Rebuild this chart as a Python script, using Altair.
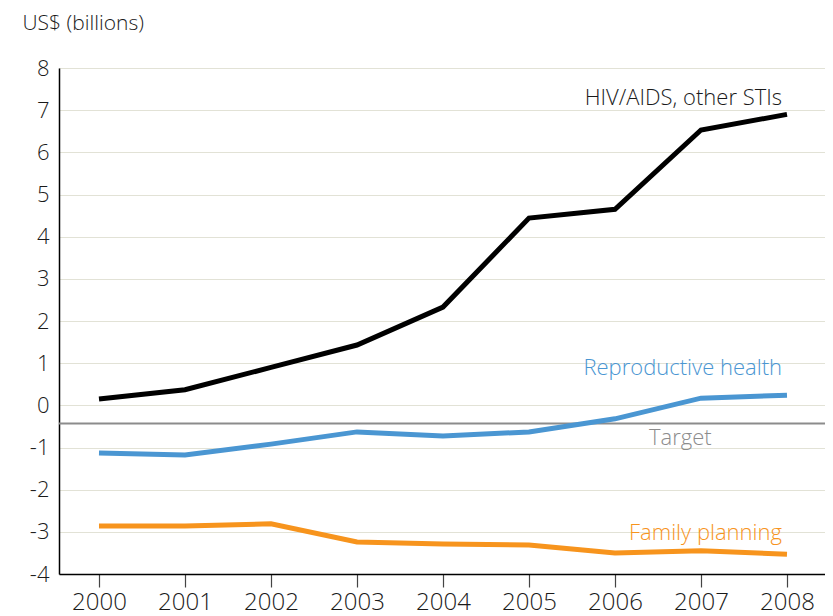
import altair as alt
import pandas as pd

years = [2000, 2001, 2002, 2003, 2004, 2005, 2006, 2007, 2008]
hiv = [0.15, 0.37, 0.9, 1.43, 2.33, 4.44, 4.65, 6.53, 6.9]
repro = [-1.13, -1.18, -0.92, -0.63, -0.73, -0.63, -0.32, 0.17, 0.24]
family = [-2.86, -2.86, -2.81, -3.24, -3.29, -3.31, -3.5, -3.45, -3.53]
target = -0.43

series_names = ["HIV/AIDS, other STIs", "Reproductive health", "Family planning"]
series_colors = ["#000000", "#4a96d2", "#f7941d"]

rows = []
for name, vals in zip(series_names, [hiv, repro, family]):
    for yr, v in zip(years, vals):
        rows.append({"year": yr, "value": v, "series": name})
df = pd.DataFrame(rows)

label_text = ["HIV/AIDS, other STIs", "Reproductive health", "Family planning"]
label_x = [2008, 2008, 2008]
label_y = [7.3, 0.88, -3.03]
label_color = ["#1a1a1a", "#4a96d2", "#f7941d"]
labels = pd.DataFrame({"text": label_text, "year": label_x, "value": label_y, "color": label_color})

target_label = pd.DataFrame({"text": ["Target"], "year": [2006.76], "value": [-0.78]})

FONT = "Open Sans"

xscale = alt.Scale(domain=[1999.535, 2008.442], nice=False, zero=False)
yscale = alt.Scale(domain=[-4, 8], nice=False)

xaxis = alt.Axis(values=years, format="d", title=None, grid=False,
                 domainColor="#000000", domainWidth=1.5,
                 tickColor="#444444", tickSize=13, tickWidth=1.2,
                 labelFontSize=24, labelColor="#1a1a1a", labelPadding=3, labelFont=FONT,
                 labelFontWeight=300)
yaxis = alt.Axis(values=list(range(-4, 9)), title="US$ (billions)",
                 labelExpr="'' + datum.value",
                 grid=True, gridColor="#e2e2d6", gridWidth=1,
                 ticks=False, domainColor="#000000", domainWidth=1.5,
                 labelFontSize=22, labelColor="#1a1a1a", labelPadding=10, labelFont=FONT,
                 labelFontWeight=300,
                 titleAngle=0, titleX=-37, titleY=-39, titleAlign="left",
                 titleBaseline="alphabetic", titleFontSize=21, titleFontWeight=300,
                 titleColor="#1a1a1a", titleFont=FONT)

base = alt.Chart(df)

rule = alt.Chart(pd.DataFrame({"t": [target]})).mark_rule(
    color="#8c8c8c", strokeWidth=2
).encode(y=alt.Y("t:Q", scale=yscale, axis=yaxis))

lines = base.mark_line(strokeWidth=5).encode(
    x=alt.X("year:Q", scale=xscale, axis=xaxis),
    y=alt.Y("value:Q", scale=yscale, axis=yaxis),
    color=alt.Color("series:N", scale=alt.Scale(domain=series_names, range=series_colors), legend=None),
    detail="series:N",
)

text = alt.Chart(labels).mark_text(align="right", baseline="middle", fontSize=22, font=FONT,
                                   fontWeight=300, dx=-5).encode(
    x=alt.X("year:Q", scale=xscale),
    y=alt.Y("value:Q", scale=yscale),
    text="text:N",
    color=alt.Color("color:N", scale=None),
)

ttext = alt.Chart(target_label).mark_text(align="center", baseline="middle", fontSize=22, font=FONT,
                                          fontWeight=300, color="#8c8c8c").encode(
    x=alt.X("year:Q", scale=xscale),
    y=alt.Y("value:Q", scale=yscale),
    text="text:N",
)

chart = alt.layer(rule, lines, text, ttext).properties(
    width=766, height=506,
    autosize=alt.AutoSizeParams(type="none"),
    padding={"left": 51, "top": 60, "right": 0, "bottom": 42},
).configure_view(strokeWidth=0).configure(background="#ffffff")

chart.save("out.html", embed_options={"renderer": "svg", "actions": False})
